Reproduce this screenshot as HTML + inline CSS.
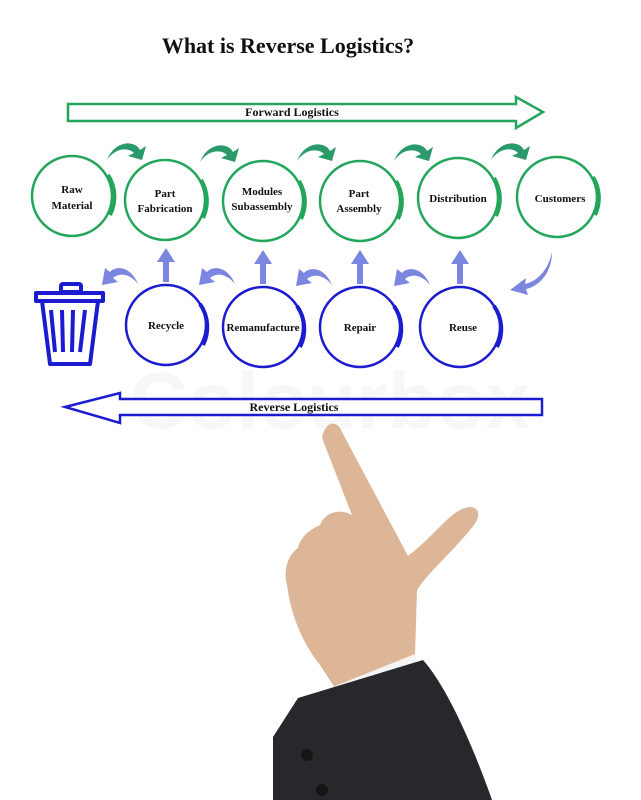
<!DOCTYPE html>
<html><head><meta charset="utf-8"><style>
html,body{margin:0;padding:0;background:#fff;}
svg{display:block;}
text{font-family:"Liberation Serif",serif;font-weight:bold;fill:#111;}
</style></head><body>
<svg width="641" height="800" viewBox="0 0 641 800" xmlns="http://www.w3.org/2000/svg">
<text x="288" y="53" font-size="22" text-anchor="middle">What is Reverse Logistics?</text>

<!-- watermark -->
<text x="330" y="428" font-size="80" text-anchor="middle" style="fill:#f7f7f7;font-family:'Liberation Sans',sans-serif">Colourbox</text>

<!-- forward arrow -->
<path d="M68,104 L516,104 L516,97 L543,112 L516,128 L516,121 L68,121 Z" fill="#fff" stroke="#23a55a" stroke-width="2.5"/>
<text x="292" y="116" font-size="12" text-anchor="middle">Forward Logistics</text>

<!-- reverse arrow -->
<path d="M542,399 L120,399 L120,393 L65,407 L120,423 L120,415 L542,415 Z" fill="#fff" stroke="#1b1bd0" stroke-width="2.5"/>
<text x="294" y="411" font-size="12" text-anchor="middle">Reverse Logistics</text>

<!-- green circles -->
<g fill="none" stroke="#23a55a" stroke-width="2.5">
<circle cx="72" cy="196" r="40"/>
<circle cx="165" cy="200" r="40"/>
<circle cx="263" cy="201" r="40"/>
<circle cx="360" cy="201" r="40"/>
<circle cx="458" cy="198" r="40"/>
<circle cx="557" cy="197" r="40"/>
</g>
<g fill="none" stroke="#23a55a" stroke-width="4">
<path d="M108,175 A40,40 0 0 1 110,215"/>
<path d="M201,180 A40,40 0 0 1 203,218"/>
<path d="M299,181 A40,40 0 0 1 301,219"/>
<path d="M396,181 A40,40 0 0 1 398,219"/>
<path d="M494,178 A40,40 0 0 1 496,216"/>
<path d="M593,177 A40,40 0 0 1 595,215"/>
</g>
<g fill="#2a9a6a">
<path d="M107,160 C115,140 135,140 140,150 L146,146 L142,160 L128,156 L134,153 C128,147 115,148 107,160Z"/>
<path d="M200,162 C208,142 228,142 233,152 L239,148 L235,162 L221,158 L227,155 C221,149 208,150 200,162Z"/>
<path d="M297,161 C305,141 325,141 330,151 L336,147 L332,161 L318,157 L324,154 C318,148 305,149 297,161Z"/>
<path d="M394,161 C402,141 422,141 427,151 L433,147 L429,161 L415,157 L421,154 C415,148 402,149 394,161Z"/>
<path d="M491,160 C499,140 519,140 524,150 L530,146 L526,160 L512,156 L518,153 C512,147 499,148 491,160Z"/>
</g>
<g font-size="11" text-anchor="middle">
<text x="72" y="193">Raw</text><text x="72" y="209">Material</text>
<text x="165" y="197">Part</text><text x="165" y="212">Fabrication</text>
<text x="262" y="195">Modules</text><text x="262" y="210">Subassembly</text>
<text x="359" y="197">Part</text><text x="359" y="212">Assembly</text>
<text x="458" y="202">Distribution</text>
<text x="560" y="202">Customers</text>
</g>

<!-- blue circles -->
<g fill="none" stroke="#1b1bd0" stroke-width="2.5">
<circle cx="166" cy="325" r="40"/>
<circle cx="263" cy="327" r="40"/>
<circle cx="360" cy="327" r="40"/>
<circle cx="460" cy="327" r="40"/>
</g>
<g fill="none" stroke="#1b1bd0" stroke-width="4">
<path d="M200,304 A40,40 0 0 1 203,345"/>
<path d="M297,306 A40,40 0 0 1 300,347"/>
<path d="M394,306 A40,40 0 0 1 397,347"/>
<path d="M494,306 A40,40 0 0 1 497,347"/>
</g>
<g font-size="11" text-anchor="middle">
<text x="166" y="329">Recycle</text>
<text x="263" y="331">Remanufacture</text>
<text x="360" y="331">Repair</text>
<text x="463" y="331">Reuse</text>
</g>
<!-- blue arrows -->
<g fill="#7b86e0">
<path d="M163,282 L163,262 L157,262 L166,248 L175,262 L169,262 L169,282Z"/>
<path d="M260,284 L260,264 L254,264 L263,250 L272,264 L266,264 L266,284Z"/>
<path d="M357,284 L357,264 L351,264 L360,250 L369,264 L363,264 L363,284Z"/>
<path d="M457,284 L457,264 L451,264 L460,250 L469,264 L463,264 L463,284Z"/>
<path d="M138,284 C130,265 115,266 110,272 L105,268 L102,285 L118,282 L113,278 C120,272 130,274 138,284Z"/>
<path d="M235,284 C227,265 212,266 207,272 L202,268 L199,285 L215,282 L210,278 C217,272 227,274 235,284Z"/>
<path d="M332,285 C324,266 309,267 304,273 L299,269 L296,286 L312,283 L307,279 C314,273 324,275 332,285Z"/>
<path d="M430,285 C422,266 407,267 402,273 L397,269 L394,286 L410,283 L405,279 C412,273 422,275 430,285Z"/>
<path d="M552,252 C548,272 535,282 525,284 L526,278 L510,290 L528,295 L526,289 C540,286 552,272 552,252Z"/>
</g>
<!-- trash -->
<g fill="none" stroke="#1b1bd0" stroke-width="4" stroke-linejoin="round">
<rect x="61" y="284" width="20" height="8" rx="2"/>
<path d="M36,293 L103,293 L103,301 L36,301 Z"/>
<path d="M42,301 L50,364 L90,364 L98,301"/>
<path d="M51,310 L55,352 M62,310 L63,352 M73,310 L72,352 M85,310 L80,352"/>
</g>

<!-- hand -->
<path d="M322,438 L352,515 C340,508 325,512 320,525 C305,532 300,540 298,548 C288,555 283,570 287,585 C290,610 300,640 320,665 L335,688 L415,656 L417,590 C430,570 460,545 476,522 C482,510 475,505 465,508 C450,512 435,535 408,556 L342,432 C338,420 325,420 322,438 Z" fill="#dcb696"/>
<path d="M330,688 L415,654 L418,664 L336,698 Z" fill="#f4f4f4"/>
<path d="M298,698 L423,660 C450,690 478,760 492,800 L273,800 L273,737 Z" fill="#27282c"/>
<circle cx="307" cy="755" r="6" fill="#151515"/>
<circle cx="322" cy="790" r="6" fill="#151515"/>
</svg>
</body></html>
